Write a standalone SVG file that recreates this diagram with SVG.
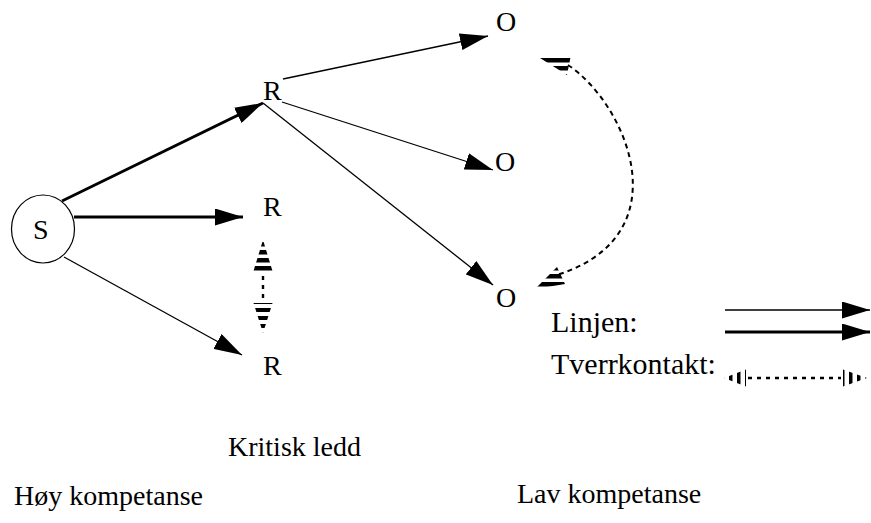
<svg xmlns="http://www.w3.org/2000/svg" width="871" height="523" viewBox="0 0 871 523">
<style>
text{font-family:'Liberation Serif','Times New Roman',Times,serif;font-size:28px;fill:#000}
.lg{font-size:30px}
.thin{stroke:#000;stroke-width:1.3;fill:none}
.thick{stroke:#000;stroke-width:2.8;fill:none}
.dash{stroke:#000;stroke-width:2.4;fill:none;stroke-dasharray:4 5}
.dashc{stroke:#000;stroke-width:2;fill:none;stroke-dasharray:5 4}
</style>
<defs>
<marker id="ah" viewBox="0 0 28 17" refX="28" refY="8.5" markerWidth="28" markerHeight="17" markerUnits="userSpaceOnUse" orient="auto">
<path d="M0,0 L28,8.5 L0,17 z" fill="#000"/>
</marker>
<pattern id="hs" patternUnits="userSpaceOnUse" x="0" y="2" width="20" height="8">
<rect x="0" y="0" width="20" height="4.5" fill="#000"/>
</pattern>
<pattern id="hs2" patternUnits="userSpaceOnUse" x="0" y="4" width="20" height="8">
<rect x="0" y="0" width="20" height="4" fill="#000"/>
</pattern>
<pattern id="vs" patternUnits="userSpaceOnUse" x="1" y="0" width="8" height="20">
<rect x="0" y="0" width="3.5" height="20" fill="#000"/>
</pattern>
</defs>

<g id="connectors">
<line class="thick" x1="62" y1="201" x2="263" y2="103" marker-end="url(#ah)"/>
<line class="thick" x1="74" y1="217" x2="243" y2="217" marker-end="url(#ah)"/>
<line class="thin" x1="64" y1="257" x2="242" y2="355" marker-end="url(#ah)"/>
<line class="thin" x1="283" y1="79" x2="488" y2="36" marker-end="url(#ah)"/>
<line class="thin" x1="282" y1="102" x2="493" y2="170" marker-end="url(#ah)"/>
<line class="thin" x1="263" y1="103" x2="493" y2="285" marker-end="url(#ah)"/>
<g id="cross-r">
<line class="dash" x1="263" y1="276" x2="263" y2="300"/>
<polygon points="263,240 272.5,271 253.5,271" fill="url(#hs)"/>
<polygon points="263,333 272.5,303 253.5,303" fill="url(#hs2)"/>
</g>
<g id="cross-o">
<path class="dashc" d="M568,65 C628,105 685,240 550,277"/>
<polygon points="540,58 571,55 567,75" fill="url(#hs)"/>
<polygon points="535,289 565,284 557,267" fill="url(#hs)"/>
</g>
</g>

<g id="S">
<ellipse cx="43" cy="229" rx="31.5" ry="34" fill="#fff" stroke="#000" stroke-width="1.2"/>
<text x="33" y="239">S</text>
</g>
<g id="R1"><text x="263" y="100">R</text></g>
<g id="R2"><text x="263" y="216">R</text></g>
<g id="R3"><text x="263" y="375">R</text></g>
<g id="O1"><text x="496" y="31">O</text></g>
<g id="O2"><text x="495" y="171">O</text></g>
<g id="O3"><text x="496" y="307">O</text></g>

<g id="legend">
<text class="lg" x="551" y="332">Linjen:</text>
<text class="lg" x="551" y="374">Tverrkontakt:</text>
<line class="thin" x1="725" y1="310" x2="870" y2="310" marker-end="url(#ah)"/>
<line class="thick" x1="725" y1="332" x2="870" y2="332" marker-end="url(#ah)"/>
<line class="dash" x1="748" y1="378" x2="841" y2="378"/>
<polygon points="724,378 746,369.5 746,386.5" fill="url(#vs)"/>
<polygon points="867,378 843,369.5 843,386.5" fill="url(#vs)"/>
</g>

<g id="labels">
<text x="228" y="456">Kritisk ledd</text>
<text x="14" y="505">Høy kompetanse</text>
<text x="517" y="503">Lav kompetanse</text>
</g>
</svg>
